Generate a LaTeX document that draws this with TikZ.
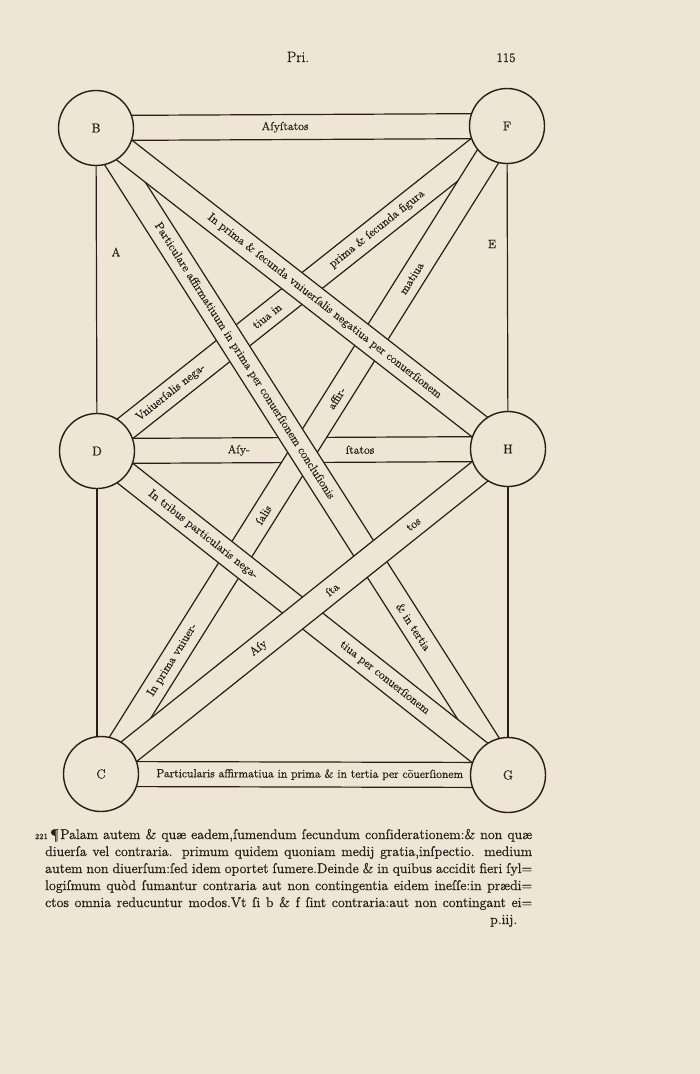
\documentclass[tikz,border=0pt]{standalone}
\usepackage{fontspec}
\setmainfont{Latin Modern Roman}[FakeBold=0.8]
\usetikzlibrary{calc}
\definecolor{paper}{RGB}{238,229,212}
\definecolor{ink}{RGB}{36,31,27}
\pgfdeclarelayer{sheet}
\pgfdeclarelayer{strips}
\pgfsetlayers{sheet,strips,main}
\begin{document}
\begin{tikzpicture}[x=1pt, y=-1pt]
\tikzstyle{every node}=[text=ink]
\tikzstyle{disc}=[circle,draw=ink,line width=1.4pt,fill=paper,minimum size=75pt,inner sep=0pt,font=\fontsize{13}{13}\selectfont]
\tikzstyle{strip}=[draw=ink,fill=paper,line width=1.2pt,line join=round]
\tikzstyle{stext}=[sloped,inner sep=0pt,font=\fontsize{11.8}{12}\selectfont]
\tikzstyle{ptext}=[anchor=base west,inner sep=0pt,font=\fontsize{14}{16}\selectfont]
\useasboundingbox (0,0) rectangle (700,1074);
\begin{pgfonlayer}{sheet}
\fill[paper] (0,0) rectangle (700,1074);
\end{pgfonlayer}
\node[disc](B) at (96,128) {B};
\node[disc](F) at (507,126) {F};
\node[disc](D) at (97,451) {D};
\node[disc](H) at (508,449) {H};
\node[disc](C) at (101,774) {C};
\node[disc](G) at (508,775) {G};
\begin{pgfonlayer}{strips}
\foreach \p/\q in {D/H,D/F,F/C,B/G,D/G,C/H,B/H,B/F,C/G}
  \filldraw[strip] ($(\p)!12.5pt!90:(\q)$) -- ($(\q)!12.5pt!-90:(\p)$) -- ($(\q)!12.5pt!90:(\p)$) -- ($(\p)!12.5pt!-90:(\q)$) -- cycle;
\end{pgfonlayer}
\draw[ink,line width=1.2pt] (B) -- (D);
\draw[ink,line width=1.2pt] (D.south) -- (D.south |- C.north);
\draw[ink,line width=1.2pt] (F) -- (H);
\draw[ink,line width=1.2pt] (H) -- (G);
\path (B.center) -- (F.center) node[stext,pos=0.46] (t1) {Aſyſtatos};
\path (D.center) -- (H.center) node[stext,pos=0.345] (t2) {Aſy-} node[stext,pos=0.64] (t3) {ſtatos};
\path (C.center) -- (G.center) node[stext,pos=0.513] (t4) {Particularis affirmatiua in prima \& in tertia per cōuerſionem};
\path (B.center) -- (G.center) node[stext,pos=0.36] (t5) {Particulare affirmatiuum in prima per conuerſionem concluſionis} node[stext,pos=0.771] (t6) {\& in tertia};
\path (B.center) -- (H.center) node[stext,pos=0.555] (t7) {In prima \& ſecunda vniuerſalis negatiua per conuerſionem};
\path (D.center) -- (F.center) node[stext,pos=0.18] (t8) {Vniuerſalis nega-} node[stext,pos=0.415] (t9) {tiua in} node[stext,pos=0.683] (t10) {prima \& ſecunda figura};
\path (C.center) -- (F.center) node[stext,pos=0.176] (t11) {In prima vniuer-} node[stext,pos=0.40] (t12) {ſalis} node[stext,pos=0.58] (t13) {affir-} node[stext,pos=0.765] (t14) {matiua};
\path (D.center) -- (G.center) node[stext,pos=0.258] (t15) {In tribus particularis nega-} node[stext,pos=0.70] (t16) {tiua per conuerſionem};
\path (C.center) -- (H.center) node[stext,pos=0.387] (t17) {Aſy} node[stext,pos=0.568] (t18) {ſta} node[stext,pos=0.768] (t19) {tos};
\node[font=\fontsize{12}{12}\selectfont] (A) at (116,252) {A};
\node[font=\fontsize{12}{12}\selectfont] (E) at (492,244) {E};
\node[anchor=base,font=\fontsize{15}{15}\selectfont] (head) at (298,62) {Pri.};
\node[anchor=base,font=\fontsize{13}{13}\selectfont] (folio) at (506,62) {115};
\node[anchor=base east,inner sep=0pt,font=\fontsize{8}{8}\selectfont] (num) at (48,839) {221};
\node[anchor=base east,inner sep=0pt,font=\fontsize{14}{16}\selectfont] (mark) at (59,839) {¶};
\node[ptext] (l1) at (60,839) {\makebox[472pt][s]{Palam autem \& quæ eadem,ſumendum ſecundum conſiderationem:\& non quæ}};
\node[ptext] (l2) at (45,856) {\makebox[487pt][s]{diuerſa vel contraria. primum quidem quoniam medij gratia,inſpectio. medium}};
\node[ptext] (l3) at (45,873) {\makebox[487pt][s]{autem non diuerſum:ſed idem oportet ſumere.Deinde \& in quibus accidit fieri ſyl=}};
\node[ptext] (l4) at (45,890) {\makebox[487pt][s]{logiſmum quòd ſumantur contraria aut non contingentia eidem ineſſe:in prædi=}};
\node[ptext] (l5) at (45,907) {\makebox[487pt][s]{ctos omnia reducuntur modos.Vt ſi b \& f ſint contraria:aut non contingant ei=}};
\node[ptext] (sig) at (490,924) {p.iij.};
\end{tikzpicture}
\end{document}
